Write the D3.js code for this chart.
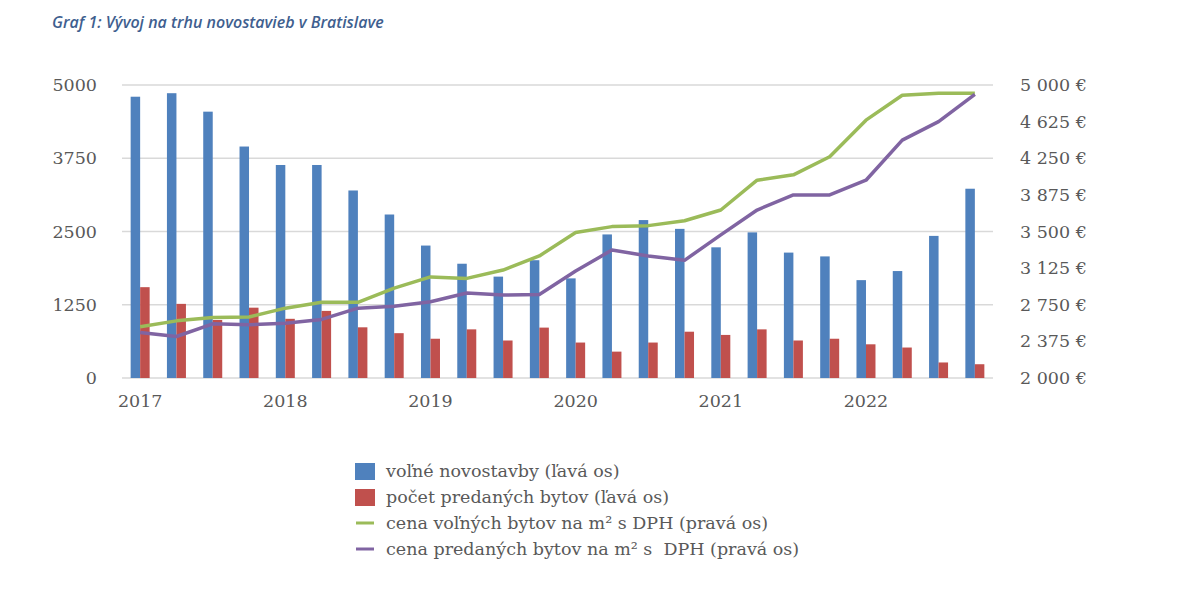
<!DOCTYPE html>
<html><head><meta charset="utf-8">
<script src="https://cdn.jsdelivr.net/npm/d3@7"></script>
<style>body{margin:0;background:#fff}svg{display:block}</style>
</head><body><svg id="c" width="1200" height="595"></svg>
<script>
const quarters = ["2017Q1","2017Q2","2017Q3","2017Q4","2018Q1","2018Q2","2018Q3","2018Q4","2019Q1","2019Q2","2019Q3","2019Q4","2020Q1","2020Q2","2020Q3","2020Q4","2021Q1","2021Q2","2021Q3","2021Q4","2022Q1","2022Q2","2022Q3","2022Q4"];
const yearLabels = ["2017","2018","2019","2020","2021","2022"];
const volne = [4800,4860,4545,3950,3635,3635,3200,2790,2260,1950,1730,2010,1700,2450,2695,2545,2230,2485,2140,2075,1670,1825,2425,3230];
const predane = [1550,1265,990,1200,1010,1145,865,765,670,830,640,860,605,450,605,790,735,830,640,670,575,520,265,235];
const cenaVolnych = [2525,2585,2620,2625,2715,2775,2775,2920,3035,3020,3105,3250,3490,3550,3560,3610,3720,4025,4080,4265,4640,4895,4915,4915];
const cenaPredanych = [2465,2425,2555,2545,2560,2600,2715,2735,2780,2870,2850,2855,3095,3310,3250,3205,3465,3720,3875,3875,4025,4435,4625,4905];
const leftTicks = [0,1250,2500,3750,5000];
const rightTicks = [2000,2375,2750,3125,3500,3875,4250,4625,5000];
const legendLabels = ["voľné novostavby (ľavá os)","počet predaných bytov (ľavá os)","cena voľných bytov na m² s DPH (pravá os)","cena predaných bytov na m² s  DPH (pravá os)"];
const colors = {blue:"#4f81bd", red:"#c0504d", green:"#9bbb59", purple:"#8064a2"};

const svg = d3.select("#c");
const L = 122, R = 993, T = 85, B = 378;
const serif = "'DejaVu Serif', serif";
const fs = 17.5;

svg.append("text").attr("x",52).attr("y",28)
  .attr("font-family","'Open Sans', sans-serif").attr("font-style","italic").attr("font-weight","600")
  .attr("font-size",16).attr("fill","#3f5f8f").text("Graf 1: Vývoj na trhu novostavieb v Bratislave");

const x = d3.scaleBand().domain(quarters).range([L,R]).padding(0);
const bw = x.bandwidth();
const x1 = d3.scaleBand().domain(["v","p"]).range([(bw-19)/2,(bw+19)/2]).padding(0);
const yL = d3.scaleLinear().domain([0,5000]).range([B,T]);
const yR = d3.scaleLinear().domain([2000,5000]).range([B,T]);

// gridlines
svg.append("g").selectAll("line").data(leftTicks).join("line")
  .attr("x1",L).attr("x2",R).attr("y1",d=>yL(d)).attr("y2",d=>yL(d))
  .attr("stroke","#d9d9d9").attr("stroke-width",1.5);

// left axis
const gl = svg.append("g").attr("transform",`translate(${L},0)`)
  .call(d3.axisLeft(yL).tickValues(leftTicks).tickSize(0).tickPadding(25).tickFormat(d=>String(d)));
gl.select(".domain").remove();
gl.selectAll("text").attr("font-family",serif).attr("font-size",fs).attr("fill","#595959");

// right axis
const fmtR = d => d3.format(",")(d).replace(",", " ") + " €";
const gr = svg.append("g").attr("transform",`translate(${R},0)`)
  .call(d3.axisRight(yR).tickValues(rightTicks).tickSize(0).tickPadding(27).tickFormat(fmtR));
gr.select(".domain").remove();
gr.selectAll("text").attr("font-family",serif).attr("font-size",fs).attr("fill","#595959");

// bottom axis
const gb = svg.append("g").attr("transform",`translate(0,${B})`)
  .call(d3.axisBottom(x).tickValues(quarters.filter(q=>q.endsWith("Q1"))).tickSize(0).tickPadding(17)
    .tickFormat(q=>yearLabels[yearLabels.indexOf(q.slice(0,4))]));
gb.select(".domain").remove();
gb.selectAll("text").attr("font-family",serif).attr("font-size",fs).attr("fill","#595959");

// bars
svg.append("g").selectAll("rect").data(quarters).join("rect")
  .attr("x",q=>x(q)+x1("v")).attr("width",x1.bandwidth())
  .attr("y",(q,i)=>yL(volne[i])).attr("height",(q,i)=>B-yL(volne[i])).attr("fill",colors.blue);
svg.append("g").selectAll("rect").data(quarters).join("rect")
  .attr("x",q=>x(q)+x1("p")).attr("width",x1.bandwidth())
  .attr("y",(q,i)=>yL(predane[i])).attr("height",(q,i)=>B-yL(predane[i])).attr("fill",colors.red);

// lines
const line = d3.line().x((d,i)=>x(quarters[i])+bw/2).y(d=>yR(d));
svg.append("path").datum(cenaVolnych).attr("d",line).attr("fill","none")
  .attr("stroke",colors.green).attr("stroke-width",3.5).attr("stroke-linejoin","round");
svg.append("path").datum(cenaPredanych).attr("d",line).attr("fill","none")
  .attr("stroke",colors.purple).attr("stroke-width",3.5).attr("stroke-linejoin","round");

// legend
const lg = svg.append("g");
const ly0 = 471, ldy = 26;
legendLabels.forEach((t,i)=>{
  const yy = ly0 + i*ldy;
  if (i<2) {
    lg.append("rect").attr("x",355).attr("y",yy-8).attr("width",20).attr("height",17)
      .attr("fill", i===0?colors.blue:colors.red);
  } else {
    lg.append("line").attr("x1",356).attr("x2",374).attr("y1",yy).attr("y2",yy)
      .attr("stroke", i===2?colors.green:colors.purple).attr("stroke-width",3);
  }
  lg.append("text").attr("x",386).attr("y",yy).attr("dy","0.35em").style("white-space","pre")
    .attr("font-family",serif).attr("font-size",fs).attr("fill","#595959").text(t);
});
</script></body></html>
